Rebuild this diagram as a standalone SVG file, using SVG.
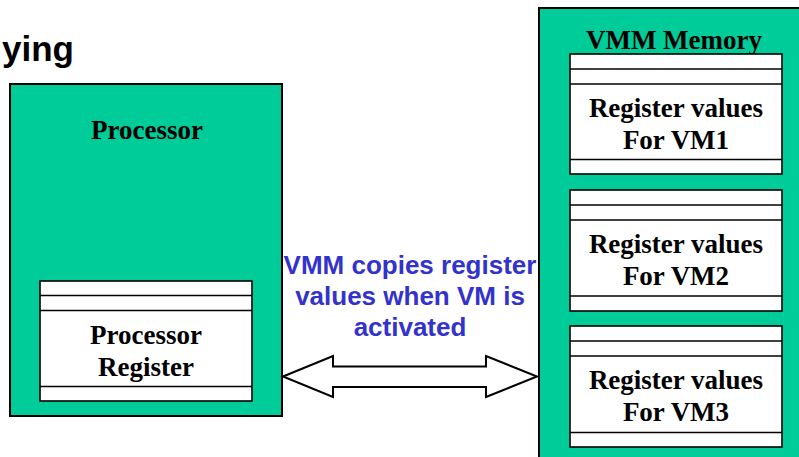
<svg xmlns="http://www.w3.org/2000/svg" width="799" height="457" viewBox="0 0 799 457">
<style>
.outer{fill:#00CC99;stroke:#000;stroke-width:2}
.reg{fill:#fff;stroke:#000;stroke-width:1.6}
.sep{stroke:#000;stroke-width:1.6}
.lbl{font-family:"Liberation Serif","Times New Roman",serif;font-weight:bold;font-size:27px;fill:#000;text-anchor:middle}
.note{font-family:"Liberation Sans",Arial,sans-serif;font-weight:bold;font-size:26px;fill:#3333CC;text-anchor:middle}
.title{font-family:"Liberation Sans",Arial,sans-serif;font-weight:bold;font-size:35px;fill:#000;text-anchor:end}
</style>
<rect width="799" height="457" fill="#fff"/>
<text class="title" x="74" y="61">ying</text>
<g id="processor">
<rect class="outer" x="10" y="84" width="272" height="332"/>
<text class="lbl" x="147" y="139">Processor</text>
</g>
<g id="processor-register">
<rect class="reg" x="40" y="281" width="212" height="120"/>
<line class="sep" x1="40" y1="295.5" x2="252" y2="295.5"/>
<line class="sep" x1="40" y1="310.5" x2="252" y2="310.5"/>
<line class="sep" x1="40" y1="386.5" x2="252" y2="386.5"/>
<text class="lbl" x="146" y="344">Processor</text>
<text class="lbl" x="146" y="376">Register</text>
</g>
<g id="vmm-memory">
<rect class="outer" x="539" y="8" width="280" height="470"/>
<text class="lbl" x="674" y="49">VMM Memory</text>
</g>
<g id="vm1">
<rect class="reg" x="570" y="54" width="212" height="120"/>
<line class="sep" x1="570" y1="69" x2="782" y2="69"/>
<line class="sep" x1="570" y1="84" x2="782" y2="84"/>
<line class="sep" x1="570" y1="159.5" x2="782" y2="159.5"/>
<text class="lbl" x="676" y="117">Register values</text>
<text class="lbl" x="676" y="149">For VM1</text>
</g>
<g id="vm2">
<rect class="reg" x="570" y="190" width="212" height="121"/>
<line class="sep" x1="570" y1="205" x2="782" y2="205"/>
<line class="sep" x1="570" y1="220" x2="782" y2="220"/>
<line class="sep" x1="570" y1="296" x2="782" y2="296"/>
<text class="lbl" x="676" y="253">Register values</text>
<text class="lbl" x="676" y="285">For VM2</text>
</g>
<g id="vm3">
<rect class="reg" x="570" y="326" width="212" height="121"/>
<line class="sep" x1="570" y1="341" x2="782" y2="341"/>
<line class="sep" x1="570" y1="356" x2="782" y2="356"/>
<line class="sep" x1="570" y1="432.5" x2="782" y2="432.5"/>
<text class="lbl" x="676" y="389">Register values</text>
<text class="lbl" x="676" y="421">For VM3</text>
</g>
<g id="connectors">
<polygon points="283,376.5 333,356 333,366.5 486,366.5 486,356 537,376.5 486,397 486,387 333,387 333,397" fill="#fff" stroke="#000" stroke-width="2"/>
<text class="note" x="410" y="274">VMM copies register</text>
<text class="note" x="410" y="305">values when VM is</text>
<text class="note" x="410" y="336">activated</text>
</g>
</svg>
